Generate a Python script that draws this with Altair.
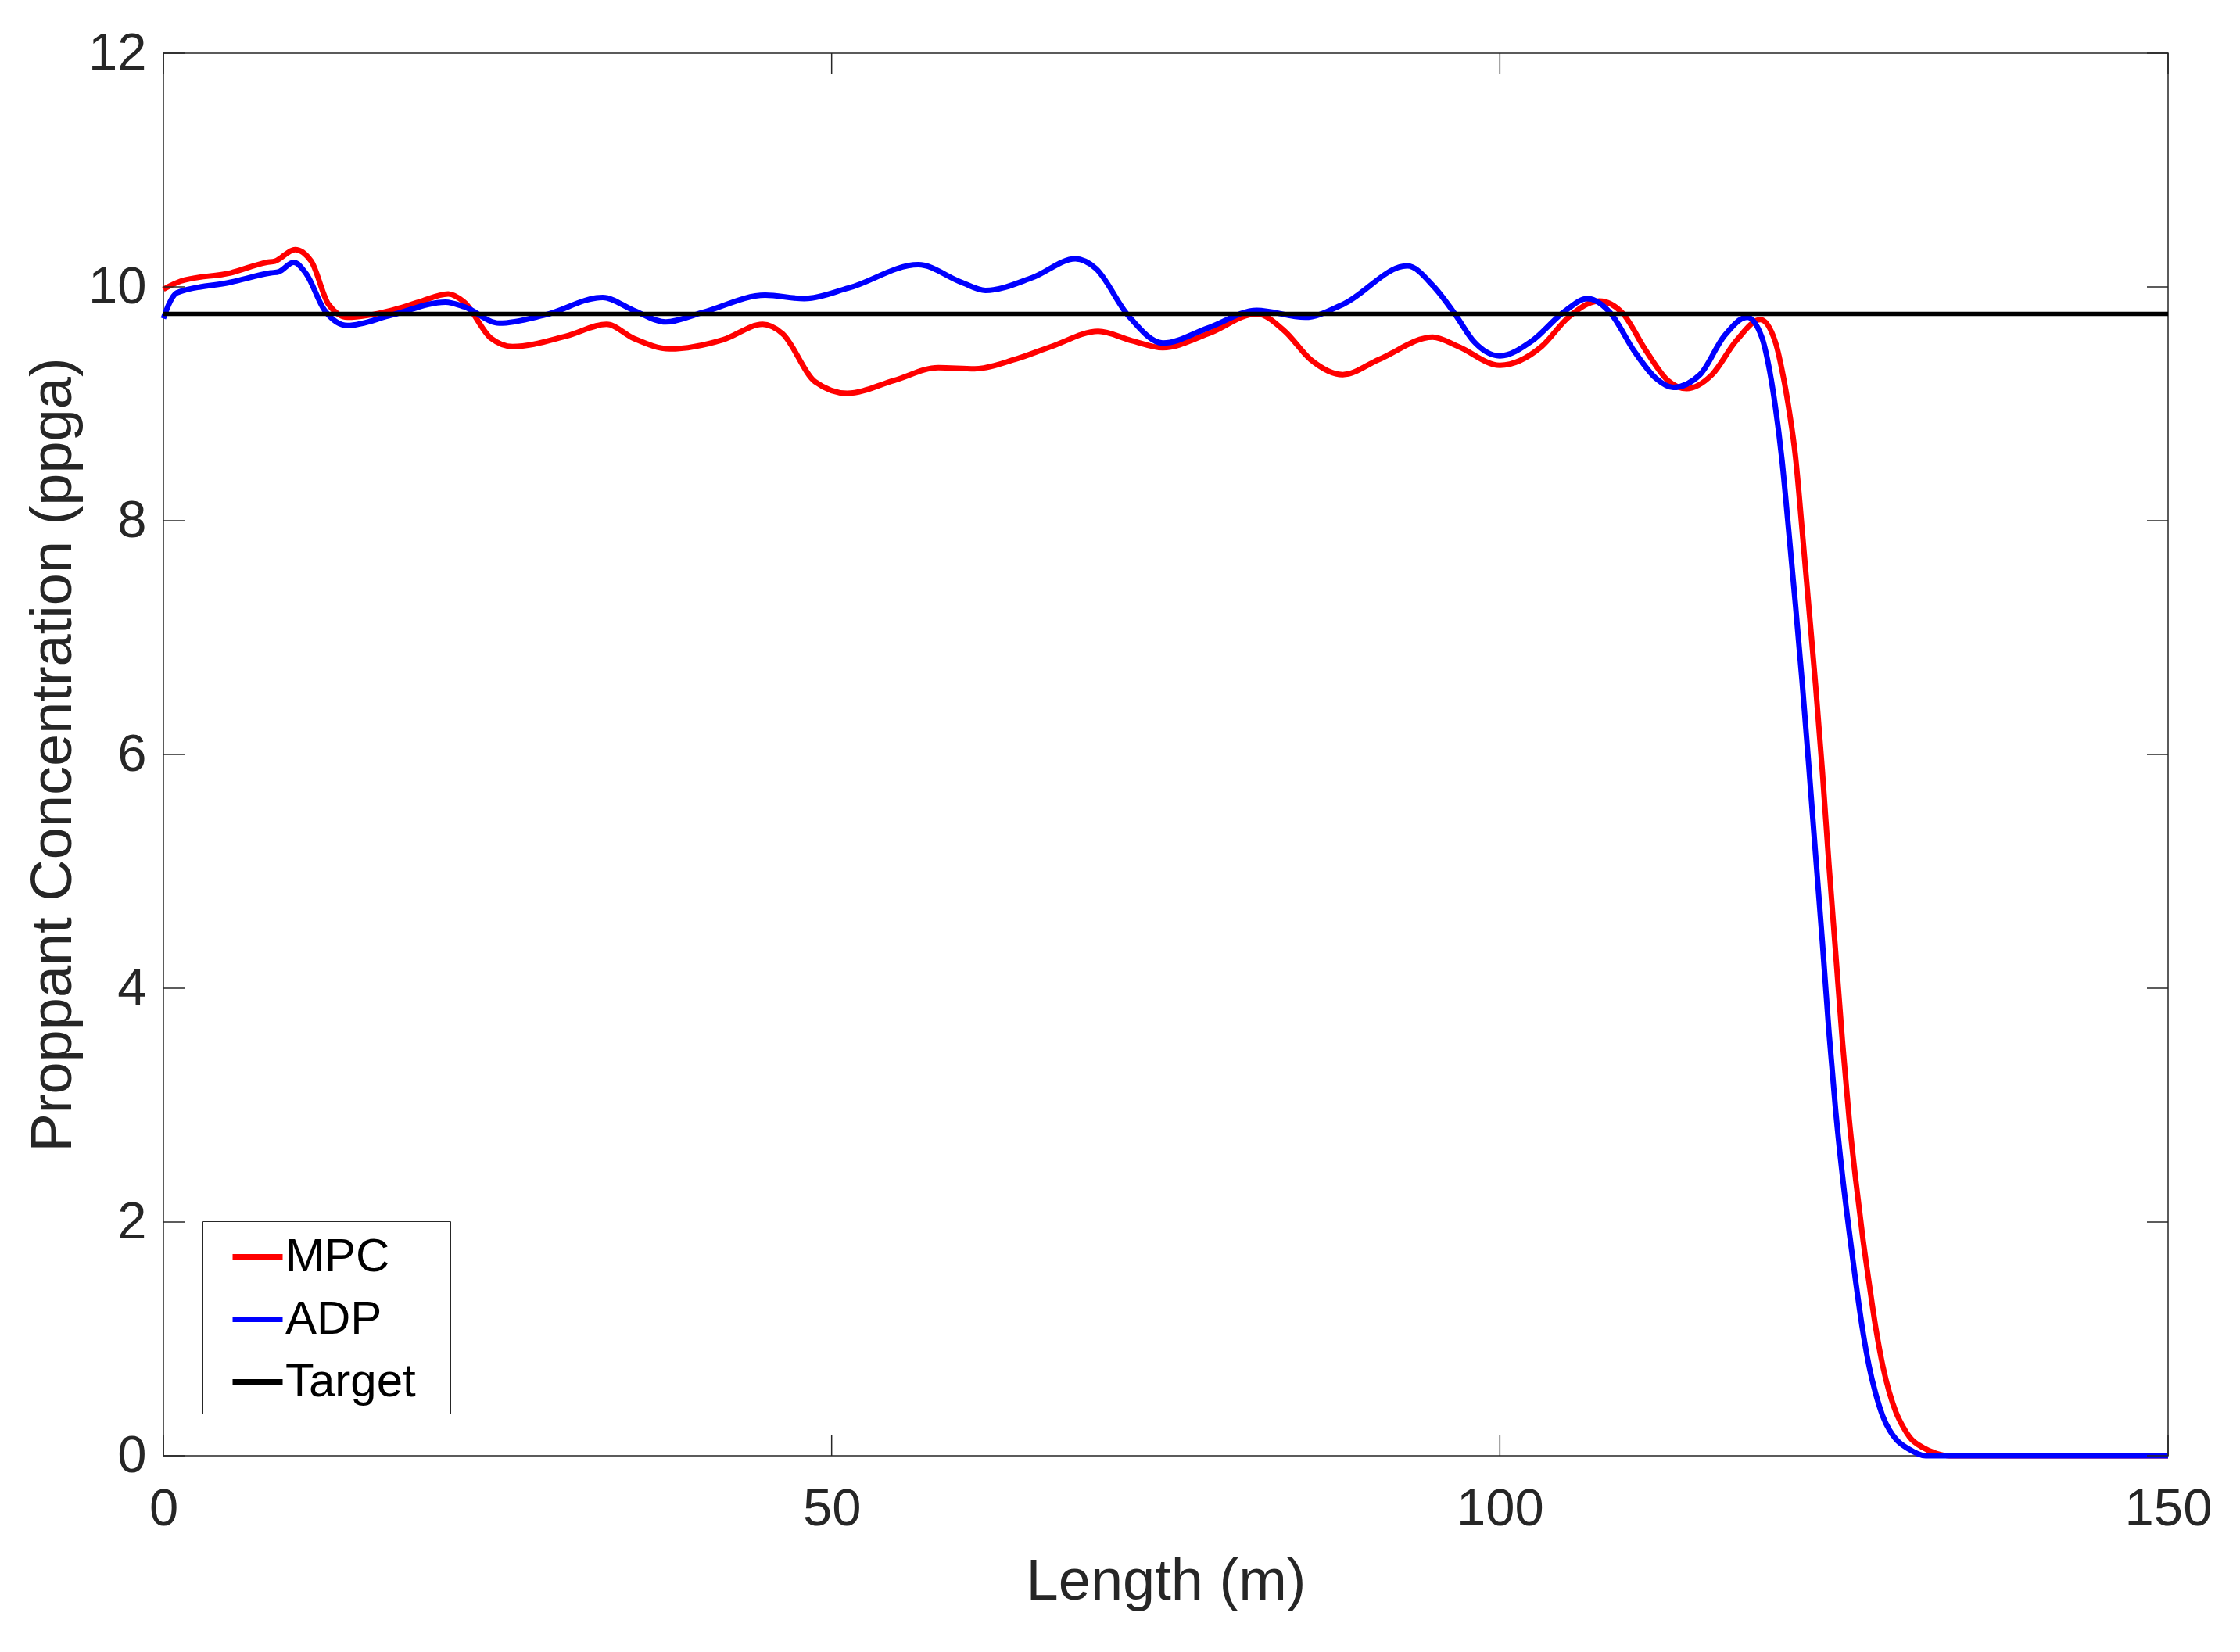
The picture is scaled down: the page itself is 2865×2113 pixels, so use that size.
import altair as alt
import pandas as pd

# ---------------- data ----------------
mpc_x = [0, 1.31, 5.03, 7.74, 8.34, 9.85, 11.06, 12.36, 13.77, 17.09, 19.10, 21.31, 22.51,
         24.52, 26.13, 30.15, 33.17, 35.18, 37.89, 41.91, 44.83, 46.33, 48.75, 51.16, 54.68,
         57.99, 60.71, 63.72, 66.44, 69.95, 72.47, 74.78, 78.19, 81.81, 83.92, 85.83, 88.25,
         90.96, 94.98, 96.89, 100.0, 103.12, 105.13, 107.44, 109.15, 110.96, 112.57, 113.97,
         115.88, 117.69, 119.50, 120.61, 121.11, 121.61, 122.12, 122.62, 123.12, 123.62,
         124.13, 124.63, 125.13, 125.63, 126.14, 126.64, 127.14, 127.64, 128.15, 128.65,
         129.15, 129.65, 130.16, 130.66, 131.66, 132.67, 133.67, 150.0]
mpc_y = [9.98, 10.05, 10.12, 10.21, 10.22, 10.32, 10.22, 9.85, 9.74, 9.80, 9.87, 9.94, 9.87,
         9.56, 9.49, 9.58, 9.68, 9.56, 9.47, 9.55, 9.68, 9.60, 9.19, 9.09, 9.20, 9.31, 9.30,
         9.38, 9.49, 9.62, 9.54, 9.48, 9.60, 9.77, 9.62, 9.38, 9.25, 9.38, 9.57, 9.49, 9.33,
         9.49, 9.74, 9.88, 9.78, 9.45, 9.20, 9.13, 9.25, 9.54, 9.72, 9.53, 9.29,
         8.97, 8.55, 7.92, 7.26, 6.60, 5.86, 5.05, 4.30, 3.55, 2.88, 2.35,
         1.88, 1.47, 1.08, 0.77, 0.54, 0.37, 0.25, 0.16, 0.07, 0.02, 0.0, 0.0]

adp_x = [0, 0.4, 1.01, 5.03, 8.04, 8.64, 9.75, 10.70, 12.06, 13.77, 17.09, 21.11, 22.51,
         25.13, 28.54, 32.87, 35.18, 37.59, 40.30, 45.03, 47.94, 51.26, 56.48, 59.70, 61.51,
         65.03, 68.24, 69.75, 72.16, 74.78, 78.19, 81.81, 85.43, 88.25, 93.07, 95.08, 96.69,
         98.0, 100.0, 102.42, 104.73, 106.54, 108.25, 110.06, 111.66, 112.97, 114.98, 116.79,
         118.50, 119.60, 120.11, 120.61, 121.11, 121.61, 122.12, 122.62, 123.12, 123.62,
         124.13, 124.63, 125.13, 125.63, 126.14, 126.64, 127.14, 127.64, 128.15, 128.65,
         129.15, 129.65, 130.56, 131.86, 150.0]
adp_y = [9.73, 9.85, 9.95, 10.04, 10.12, 10.13, 10.21, 10.11, 9.80, 9.67, 9.76, 9.87, 9.83,
         9.69, 9.76, 9.91, 9.80, 9.70, 9.78, 9.93, 9.90, 9.99, 10.19, 10.04, 9.97, 10.08,
         10.24, 10.16, 9.76, 9.52, 9.65, 9.80, 9.74, 9.85, 10.18, 10.00, 9.76, 9.54, 9.41,
         9.54, 9.78, 9.90, 9.78, 9.45, 9.22, 9.14, 9.25, 9.58, 9.74, 9.57, 9.33, 8.98, 8.52,
         7.92, 7.28, 6.62, 5.90, 5.15, 4.40, 3.62, 2.95, 2.40, 1.92, 1.48,
         1.08, 0.76, 0.52, 0.34, 0.22, 0.14, 0.06, 0.0, 0.0]

target_x = [0, 150]
target_y = [9.77, 9.77]

series_names = ["MPC", "ADP", "Target"]
series_colors = ["#ff0000", "#0000ff", "#000000"]

x_ticks = [0, 50, 100, 150]
y_ticks = [0, 2, 4, 6, 8, 10, 12]

# ---------------- layout ----------------
W, H = 2564, 1794
TICK = 27
AXC = "#262626"
FONT = "Liberation Sans"

xscale = alt.Scale(domain=[0, 150], nice=False, zero=False)
yscale = alt.Scale(domain=[0, 12], nice=False, zero=False)

color = alt.Color(
    "series:N",
    scale=alt.Scale(domain=series_names, range=series_colors),
    legend=alt.Legend(
        title=" ", titleOrient="right", titlePadding=34, titleFontSize=60,
        orient="none", legendX=50, legendY=1494,
        strokeColor=AXC, fillColor="white", padding=10,
        symbolType="stroke", symbolSize=4096, symbolStrokeWidth=7,
        labelFontSize=60, labelFont=FONT, labelColor="black",
        rowPadding=14, symbolOffset=25, labelOffset=0, labelLimit=500,
    ),
)

xaxis = alt.Axis(
    values=x_ticks, title="Length (m)", ticks=False, tickSize=0, domain=False, grid=False,
    labelFontSize=67, labelFont=FONT, labelColor=AXC, labelPadding=35,
    labelFlush=False, labelOverlap=False,
    titleFontSize=74, titleFont=FONT, titleColor=AXC, titleFontWeight="normal",
    titleX=W / 2, titleY=183, titleBaseline="alphabetic",
)
yaxis = alt.Axis(
    values=y_ticks, title="Proppant Concentration (ppga)", ticks=False, tickSize=0,
    domain=False, grid=False,
    labelFontSize=67, labelFont=FONT, labelColor=AXC, labelPadding=22,
    labelFlush=False, labelOverlap=False,
    titleFontSize=74, titleFont=FONT, titleColor=AXC, titleFontWeight="normal",
    titleAngle=270, titleX=-119, titleY=H / 2, titleBaseline="alphabetic", titleAlign="center",
)

X = lambda f: alt.X(f, scale=xscale, axis=xaxis)
Y = lambda f: alt.Y(f, scale=yscale, axis=yaxis)


def line_layer(xs, ys, name, sw):
    df = pd.DataFrame({"x": xs, "y": ys, "series": name})
    return alt.Chart(df).mark_line(strokeWidth=sw, interpolate="monotone").encode(
        x=X("x:Q"), y=Y("y:Q"), color=color,
    )


mpc = line_layer(mpc_x, mpc_y, "MPC", 7)
adp = line_layer(adp_x, adp_y, "ADP", 7)
tgt = line_layer(target_x, target_y, "Target", 5.5)

xt = pd.DataFrame({"v": x_ticks})
yt = pd.DataFrame({"v": y_ticks})
rule = dict(color=AXC, strokeWidth=1.5)
xt_bottom = alt.Chart(xt).mark_rule(**rule).encode(
    x=X("v:Q"), y=alt.value(H), y2=alt.value(H - TICK))
xt_top = alt.Chart(xt).mark_rule(**rule).encode(
    x=X("v:Q"), y=alt.value(0), y2=alt.value(TICK))
yt_left = alt.Chart(yt).mark_rule(**rule).encode(
    y=Y("v:Q"), x=alt.value(0), x2=alt.value(TICK))
yt_right = alt.Chart(yt).mark_rule(**rule).encode(
    y=Y("v:Q"), x=alt.value(W), x2=alt.value(W - TICK))

chart = (
    alt.layer(mpc, adp, tgt, xt_bottom, xt_top, yt_left, yt_right)
    .properties(
        width=W, height=H,
        autosize=alt.AutoSizeParams(type="none"),
        padding={"left": 201, "top": 60, "right": 80, "bottom": 220},
        background="white",
    )
    .configure_view(stroke=AXC, strokeWidth=1.5)
)

chart.save("out.html", embed_options={"renderer": "svg", "actions": False})
